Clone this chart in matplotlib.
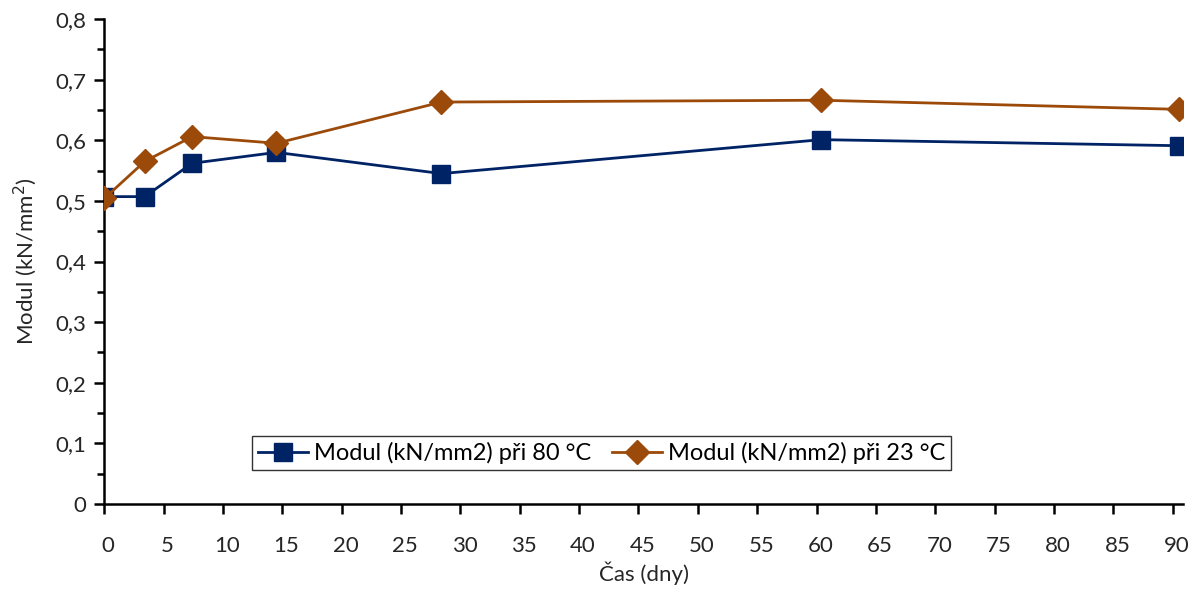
import matplotlib.pyplot as plt
from matplotlib.ticker import MultipleLocator, FuncFormatter
from matplotlib.transforms import ScaledTranslation

plt.rcParams['font.family'] = ['Lato', 'DejaVu Sans']

# days and modulus values
days_80 = [0, 3.4, 7.4, 14.5, 28.4, 60.4, 90.5]
modul_80 = [0.507, 0.507, 0.562, 0.580, 0.545, 0.601, 0.591]
days_23 = [0, 3.4, 7.4, 14.5, 28.4, 60.4, 90.5]
modul_23 = [0.504, 0.565, 0.606, 0.595, 0.663, 0.666, 0.651]

label_80 = 'Modul (kN/mm2) při 80 °C'
label_23 = 'Modul (kN/mm2) při 23 °C'

blue = '#002366'
brown = '#9C4A0A'
text_c = '#262626'

fig = plt.figure(figsize=(12.01, 5.99), dpi=100)
ax = fig.add_axes([104.3 / 1201, 1 - 504 / 599, (1183 - 104.3) / 1201, (504 - 19) / 599])

ax.plot(days_80, modul_80, color=blue, lw=2, marker='s', ms=13,
        label=label_80, zorder=3)
ax.plot(days_23, modul_23, color=brown, lw=2, marker='D', ms=12.5,
        label=label_23, zorder=4)

ax.set_xlim(0, 90.87)
ax.set_ylim(0, 0.8)
ax.xaxis.set_major_locator(MultipleLocator(5))
ax.yaxis.set_major_locator(MultipleLocator(0.1))
ax.yaxis.set_minor_locator(MultipleLocator(0.05))
ax.yaxis.set_major_formatter(FuncFormatter(
    lambda v, p: '0' if abs(v) < 1e-9 else ('%.1f' % v).replace('.', ',')))

for s in ['top', 'right']:
    ax.spines[s].set_visible(False)
for s in ['left', 'bottom']:
    ax.spines[s].set_linewidth(1.8)

ax.tick_params(axis='both', which='major', direction='out', length=7, width=1.8,
               labelsize=16, colors='black', labelcolor=text_c)
ax.tick_params(axis='x', which='major', pad=16)
ax.tick_params(axis='y', which='major', pad=6)
ax.tick_params(axis='y', which='minor', direction='out', length=5, width=1.8)

# excel draws the x tick labels a bit right of the ticks
shift = ScaledTranslation(4 / 100, 0, fig.dpi_scale_trans)
for lbl in ax.get_xticklabels():
    lbl.set_transform(lbl.get_transform() + shift)

ax.set_xlabel('Čas (dny)', fontsize=16, color=text_c, labelpad=4)
ax.set_ylabel('Modul (kN/mm$^2$)', fontsize=16, color=text_c, labelpad=12)

leg = ax.legend(loc='center', bbox_to_anchor=(0.461, 0.105), ncol=2, fontsize=17,
                frameon=True, fancybox=False, edgecolor='black', handlelength=2.1,
                columnspacing=0.9, handletextpad=0.25, borderpad=0.25)
leg.get_frame().set_linewidth(1.0)

fig.savefig('out.png', dpi=100)
